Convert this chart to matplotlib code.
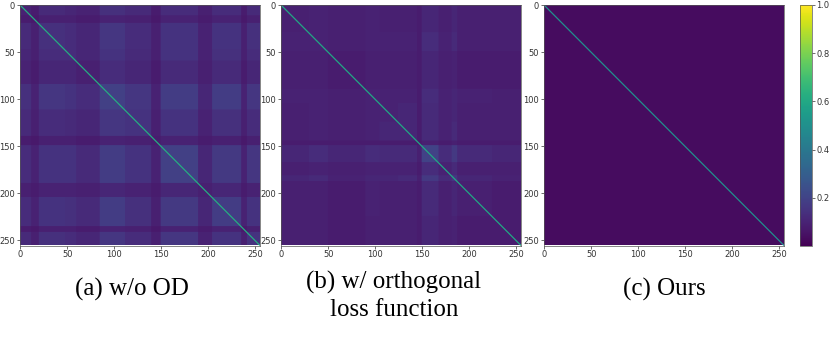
import numpy as np
import matplotlib
matplotlib.use('Agg')
from matplotlib import pyplot as plt

# band limits along both axes
edges_a = [0, 12, 20, 48, 60, 85, 112, 140, 150, 190, 205, 236, 242, 256]
values_a = [
    [.10, .08, .12, .11, .10, .14, .12, .08, .13, .09, .13, .08, .12],
    [.08, .07, .09, .09, .08, .10, .09, .07, .10, .08, .10, .07, .09],
    [.12, .09, .14, .13, .11, .16, .13, .09, .15, .10, .15, .09, .14],
    [.11, .09, .13, .13, .11, .15, .12, .09, .15, .10, .14, .09, .13],
    [.10, .08, .11, .11, .09, .13, .11, .08, .12, .09, .12, .08, .11],
    [.14, .10, .16, .15, .13, .19, .16, .10, .18, .11, .18, .10, .16],
    [.12, .09, .13, .12, .11, .16, .15, .09, .15, .10, .14, .09, .13],
    [.08, .07, .09, .09, .08, .10, .09, .08, .10, .08, .09, .07, .09],
    [.13, .10, .15, .15, .12, .18, .15, .10, .19, .11, .17, .10, .16],
    [.09, .08, .10, .10, .09, .11, .10, .08, .11, .09, .11, .08, .10],
    [.13, .10, .15, .14, .12, .18, .14, .09, .17, .11, .18, .10, .15],
    [.08, .07, .09, .09, .08, .10, .09, .07, .10, .08, .10, .07, .09],
    [.12, .09, .14, .13, .11, .16, .13, .09, .16, .10, .15, .09, .15],
]

edges_b = [0, 30, 50, 90, 105, 125, 145, 150, 168, 182, 188, 225, 256]
values_b = [
    [.09, .10, .09, .10, .09, .09, .08, .11, .09, .11, .09, .09],
    [.10, .10, .09, .10, .10, .10, .08, .13, .10, .12, .09, .09],
    [.09, .09, .08, .09, .09, .09, .08, .11, .09, .10, .08, .08],
    [.10, .10, .09, .10, .10, .10, .08, .13, .10, .11, .10, .09],
    [.09, .10, .09, .10, .10, .11, .08, .12, .10, .11, .09, .09],
    [.09, .10, .09, .10, .11, .11, .08, .12, .10, .12, .09, .09],
    [.08, .08, .08, .08, .08, .08, .07, .09, .08, .09, .08, .08],
    [.11, .13, .11, .13, .12, .12, .09, .20, .13, .17, .12, .11],
    [.09, .10, .09, .10, .10, .10, .08, .13, .10, .12, .09, .09],
    [.11, .12, .10, .11, .11, .12, .09, .17, .12, .16, .11, .10],
    [.09, .09, .08, .10, .09, .09, .08, .12, .09, .11, .09, .08],
    [.09, .09, .08, .09, .09, .09, .08, .11, .09, .10, .08, .08],
]

edges_c = [0, 256]
values_c = [[.035]]

# the diagonal looks this bright once the image is scaled down
diagonals = [0.62, 0.60, 0.50]
channels = [0, 255]
vmin, vmax = 0.003, 1.0
ticks = [0, 50, 100, 150, 200, 250]

captions = ['(a) w/o OD', '(b) w/ orthogonal\nloss function', '(c) Ours']
caption_y = [289, 296, 289]
caption_x = [132, 394, 664]


def build(edges, values):
    idx = np.repeat(np.arange(len(values)), np.diff(edges))
    return np.array(values)[np.ix_(idx, idx)]


W, H = 831, 337
fig = plt.figure(figsize=(W / 100, H / 100), dpi=100)

# left, right edges in pixels
boxes = [(20, 260), (281, 521), (544, 784)]
top, bottom = 5, 245.5

data = [(edges_a, values_a), (edges_b, values_b), (edges_c, values_c)]
for (l, r), (e, v), d in zip(boxes, data, diagonals):
    ax = fig.add_axes([l / W, 1 - bottom / H, (r - l) / W, (bottom - top) / H])
    im = ax.imshow(build(e, v), cmap='viridis', vmin=vmin, vmax=vmax, aspect='auto')
    ax.plot(channels, channels, color=im.cmap(im.norm(d)), lw=0.9)
    ax.set_xticks(ticks)
    ax.set_yticks(ticks)
    ax.tick_params(labelsize=6, length=2, width=0.5, pad=1.5, colors='#333333')
    for s in ax.spines.values():
        s.set_linewidth(0.5)
        s.set_color('#555555')

cax = fig.add_axes([799.5 / W, 1 - bottom / H, 12 / W, (bottom - top) / H])
cb = fig.colorbar(im, cax=cax)
cb.set_ticks([0.2, 0.4, 0.6, 0.8, 1.0])
cb.ax.tick_params(labelsize=6, length=2, width=0.5, pad=1.5, colors='#333333')
cb.outline.set_linewidth(0.5)
cb.outline.set_edgecolor('#555555')

for t, x, y in zip(captions, caption_x, caption_y):
    fig.text(x / W, 1 - y / H, t, family='Liberation Serif', fontsize=18,
             ha='center', va='center', color='black', linespacing=1.33)

fig.savefig('out.png', dpi=100)
